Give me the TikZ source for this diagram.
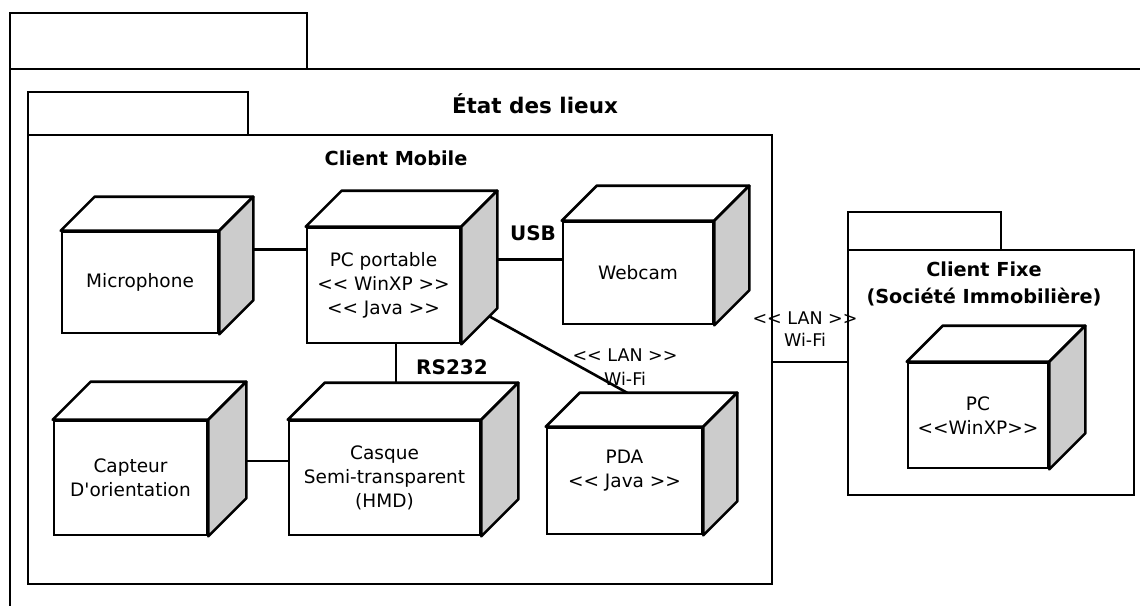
\documentclass[tikz,border=0pt]{standalone}
\usepackage{fontspec}
\setmainfont{DejaVu Sans}
\newfontfamily\dv{DejaVu Sans}
\usetikzlibrary{calc}
\definecolor{sidegray}{HTML}{CCCCCC}
\tikzset{
  lw/.style={line width=2.6pt},
  devbox/.style={draw, lw, fill=white, inner sep=0pt, align=center,
    font=\dv\fontsize{18.5}{24}\selectfont},
  pkgbox/.style={draw, lw, inner sep=0pt},
  titlelbl/.style={font=\dv\bfseries\fontsize{21.5}{26}\selectfont, inner sep=0pt},
  pkglbl/.style={font=\dv\bfseries\fontsize{19.3}{27}\selectfont, align=center, inner sep=0pt},
  boldlbl/.style={font=\dv\bfseries\fontsize{20}{24}\selectfont, align=center, inner sep=0pt},
  plainlbl/.style={font=\dv\fontsize{17.5}{22}\selectfont, align=center, inner sep=0pt},
  conn/.style={lw},
  face/.style={draw, lw, line join=round},
}
\newcommand\cubefaces[2]{%
  \path[face, fill=white] (#1.north west) -- ++(#2,-#2) -- ($(#1.north east)+(#2,-#2)$) -- (#1.north east) -- cycle;
  \path[face, fill=sidegray] (#1.north east) -- ($(#1.north east)+(#2,-#2)$) -- ($(#1.south east)+(#2,-#2)$) -- (#1.south east) -- cycle;
}
\begin{document}
\begin{tikzpicture}[x=1pt,y=-1pt]
\useasboundingbox (0,0) rectangle (1140,606);
\fill[white] (0,0) rectangle (1140,606);

% outer package
\node[pkgbox, minimum width=297, minimum height=56] (outtab) at (158.5,41) {};
\draw[lw] (1140,69) -- (10,69) -- (10,606);
\node[titlelbl] (title) at (535,104) {État des lieux};

% Client Mobile package
\node[pkgbox, minimum width=220, minimum height=43] (mobtab) at (138,113.5) {};
\node[pkgbox, minimum width=744, minimum height=449] (mobile) at (400,359.5) {};
\node[font=\dv\bfseries\fontsize{19.3}{22}\selectfont, inner sep=0pt] (mobl) at (396,158) {Client Mobile};

% Client Fixe package
\node[pkgbox, minimum width=153, minimum height=38] (fixtab) at (924.5,231) {};
\node[pkgbox, minimum width=286, minimum height=245] (fixe) at (991,372.5) {};
\node[pkglbl] (fixl) at (984,283.5) {Client Fixe\\(Société Immobilière)};

% devices
\node[devbox, minimum width=156, minimum height=101] (mic) at (140,282.5) {Microphone};
\cubefaces{mic}{34}
\node[devbox, minimum width=153, minimum height=115] (pcp) at (383.5,285.5) {PC portable\\<< WinXP >>\\<< Java >>};
\cubefaces{pcp}{36}
\node[devbox, minimum width=150, minimum height=102] (web) at (638,273) {Webcam};
\cubefaces{web}{35}
\node[devbox, minimum width=153, minimum height=114] (cap) at (130.5,478) {Capteur\\D'orientation};
\cubefaces{cap}{38}
\node[devbox, minimum width=191, minimum height=114] (cas) at (384.5,478) {Casque\\Semi-transparent\\(HMD)};
\cubefaces{cas}{37}
\node[devbox, minimum width=155, minimum height=106] (pda) at (624.5,481) {PDA\\<< Java >>\\\mbox{}};
\cubefaces{pda}{34}
\node[devbox, minimum width=140, minimum height=105] (pc) at (978,415.5) {PC\\<<WinXP>>};
\cubefaces{pc}{36}

% connectors
\coordinate (micR) at ($(mic.east)+(34,-33)$);
\draw[conn] (micR) -- (micR -| pcp.west);
\coordinate (pcpR) at ($(pcp.east)+(36,-26)$);
\draw[conn] (pcpR) -- (pcpR -| web.west);
\coordinate (pcpB) at ($(pcp.south)+(12.5,0)$);
\coordinate (casT) at ($(cas.north)+(0,-37)$);
\draw[conn] (pcpB) -- (pcpB |- casT);
\coordinate (pcpS) at ($(pcp.south east)+(28,-28)$);
\coordinate (pdaT) at ($(pda.north)+(2.5,-34)$);
\draw[conn] (pcpS) -- (pdaT);
\coordinate (capR) at ($(cap.east)+(38,-17)$);
\draw[conn] (capR) -- (capR -| cas.west);
\coordinate (mobR) at ($(mobile.east)+(0,2.5)$);
\draw[conn] (mobR) -- (mobR -| fixe.west);

% connector labels
\node[boldlbl] (usb) at (533,233) {USB};
\node[boldlbl] (rs) at (452,367) {RS232};
\node[plainlbl, font=\dv\fontsize{17.5}{24}\selectfont] (lan1) at (625,367) {<< LAN >>\\Wi-Fi};
\node[plainlbl] (lan2) at (805,329) {<< LAN >>\\Wi-Fi};
\end{tikzpicture}
\end{document}
